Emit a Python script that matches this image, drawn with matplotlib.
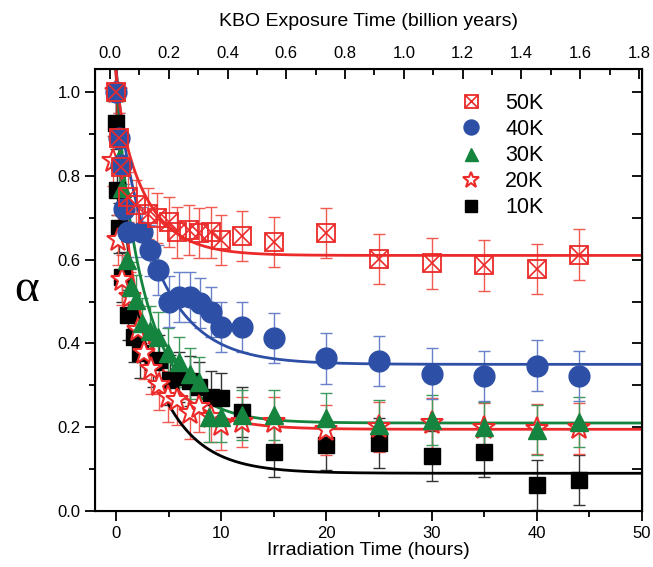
import numpy as np
import matplotlib
matplotlib.use('Agg')
import matplotlib.pyplot as plt
from matplotlib.ticker import MultipleLocator, FormatStrFormatter

plt.rcParams['font.family'] = ['Liberation Sans', 'DejaVu Sans']

# 50K
x50 = [0, 0.25, 0.5, 1.1, 1.9, 3, 3.9, 5, 5.8, 6.9, 7.9, 9, 10, 12, 15, 20, 25, 30, 35, 40, 44]
y50 = [1.0, 0.89, 0.82, 0.75, 0.73, 0.71, 0.70, 0.69, 0.665, 0.67, 0.663, 0.665, 0.646, 0.656,
       0.642, 0.664, 0.601, 0.591, 0.586, 0.577, 0.612]
# 40K
x40 = [0, 0.25, 0.5, 0.8, 1.1, 2.5, 3.2, 4, 5, 6, 7, 8, 9, 10, 12, 15, 20, 25, 30, 35, 40, 44]
y40 = [1.0, 0.89, 0.825, 0.72, 0.666, 0.666, 0.622, 0.575, 0.50, 0.511, 0.511, 0.496, 0.475,
       0.44, 0.44, 0.413, 0.364, 0.358, 0.328, 0.322, 0.347, 0.322]
# 30K
x30 = [0, 0.3, 0.6, 1.0, 1.4, 1.9, 2.5, 3.2, 4.0, 4.9, 6, 7, 7.9, 8.8, 10, 12, 15, 20, 25, 30, 35, 40, 44]
y30 = [1.0, 0.84, 0.77, 0.6, 0.535, 0.503, 0.448, 0.43, 0.416, 0.376, 0.356, 0.328, 0.308, 0.225,
       0.225, 0.229, 0.229, 0.221, 0.205, 0.217, 0.201, 0.193, 0.213]
# 20K
x20 = [0, -0.3, 0.15, 0.6, 1.3, 2.05, 2.7, 3.3, 4.1, 4.9, 5.8, 7, 7.9, 9, 10, 12, 15, 20, 25, 30, 35, 40, 44]
y20 = [1.0, 0.835, 0.646, 0.551, 0.511, 0.432, 0.376, 0.34, 0.30, 0.273, 0.265, 0.233, 0.248, 0.225,
       0.205, 0.213, 0.213, 0.193, 0.201, 0.209, 0.197, 0.195, 0.197]
# 10K
x10 = [0, 0.1, 0.25, 0.6, 1.1, 1.7, 2.3, 3.5, 4.1, 5.1, 6, 7, 7.9, 9, 10, 12, 15, 20, 25, 30, 35, 40, 44]
y10 = [0.925, 0.766, 0.675, 0.558, 0.467, 0.415, 0.377, 0.355, 0.36, 0.312, 0.32, 0.31, 0.296, 0.273,
       0.27, 0.237, 0.141, 0.157, 0.163, 0.131, 0.14, 0.062, 0.074]
err = 0.06

# fit parameters: offset, fast amp, fast tau, slow amp, slow tau
fit50 = [0.61, 0.08, 0.5, 0.36, 3.0]
fit40 = [0.35, 0.08, 0.5, 0.63, 3.9]
fit30 = [0.21, 0.15, 0.6, 0.70, 3.3]
fit20 = [0.195, 0.35, 0.8, 0.50, 3.5]
fit10 = [0.09, 0.30, 0.7, 0.66, 3.6]

red = '#ec2a2a'
blue = '#2d4fa6'
green = '#15843e'

fig = plt.figure(figsize=(6.53, 5.67), dpi=100)
ax = fig.add_axes([0.1455, 0.0988, 0.8375, 0.7795])

tt = np.linspace(-1.5, 50, 600)
def fitcurve(p):
    return p[0] + p[1] * np.exp(-tt / p[2]) + p[3] * np.exp(-tt / p[4])

for p, c in [(fit10, 'black'), (fit20, red), (fit30, green), (fit40, blue), (fit50, red)]:
    ax.plot(tt, fitcurve(p), color=c, lw=2, zorder=2)

ekw = dict(fmt='none', elinewidth=1, capsize=4.5, capthick=1, zorder=1.5)
ax.errorbar(x10, y10, yerr=err, ecolor='#333333', **ekw)
ax.errorbar(x20, y20, yerr=err, ecolor='#f05a50', **ekw)
ax.errorbar(x30, y30, yerr=err, ecolor='#3f9a5e', **ekw)
ax.errorbar(x40, y40, yerr=err, ecolor='#6a80c8', **ekw)
ax.errorbar(x50, y50, yerr=err, ecolor='#f05a50', **ekw)

h10, = ax.plot(x10, y10, 's', color='black', ms=12, ls='none', zorder=3)
h20, = ax.plot(x20, y20, '*', mfc='white', mec=red, mew=1.5, ms=17, ls='none', zorder=3.1)
h30, = ax.plot(x30, y30, '^', color=green, ms=13, ls='none', zorder=3.2)
h40, = ax.plot(x40, y40, 'o', color=blue, ms=15, ls='none', zorder=3.3)
h50a, = ax.plot(x50, y50, 's', mfc='none', mec=red, mew=1.3, ms=13, ls='none', zorder=3.4)
h50b, = ax.plot(x50, y50, 'x', color=red, mew=1.2, ms=13, ls='none', zorder=3.4)

ax.legend([(h50a, h50b), h40, h30, h20, h10], ['50K', '40K', '30K', '20K', '10K'],
          loc='upper left', bbox_to_anchor=(0.62, 0.99), frameon=False, fontsize=15.5,
          markerscale=0.72, handletextpad=0.8, labelspacing=0.24, handlelength=1.6)

ax.set_xlim(-2, 50)
ax.set_ylim(0, 1.055)
ax.xaxis.set_major_locator(MultipleLocator(10))
ax.xaxis.set_minor_locator(MultipleLocator(5))
ax.yaxis.set_major_locator(MultipleLocator(0.2))
ax.yaxis.set_minor_locator(MultipleLocator(0.1))
ax.yaxis.set_major_formatter(FormatStrFormatter('%.1f'))
ax.tick_params(which='both', direction='out', labelsize=12, width=1.3)
ax.tick_params(which='major', length=7)
ax.tick_params(which='minor', length=4)
for s in ax.spines.values():
    s.set_linewidth(1.5)

ax.set_xlabel('Irradiation Time (hours)', fontsize=14, labelpad=1)
ax.set_ylabel('α', fontsize=34, family='Liberation Serif', rotation=0, labelpad=22, va='center')

ax2 = ax.twiny()
ax2.set_xlim(-0.051, 1.810)
ax2.xaxis.set_major_locator(MultipleLocator(0.2))
ax2.xaxis.set_minor_locator(MultipleLocator(0.1))
ax2.xaxis.set_major_formatter(FormatStrFormatter('%.1f'))
ax2.tick_params(which='both', direction='in', labelsize=12, width=1.3, pad=6)
ax2.tick_params(which='major', length=7)
ax2.tick_params(which='minor', length=4)
ax2.set_xlabel('KBO Exposure Time (billion years)', fontsize=14, labelpad=14)

ax3 = ax.secondary_yaxis('right')
ax3.yaxis.set_major_locator(MultipleLocator(0.1))
ax3.tick_params(direction='in', length=7, width=1.3, labelright=False)

fig.savefig('out.png', dpi=100)
